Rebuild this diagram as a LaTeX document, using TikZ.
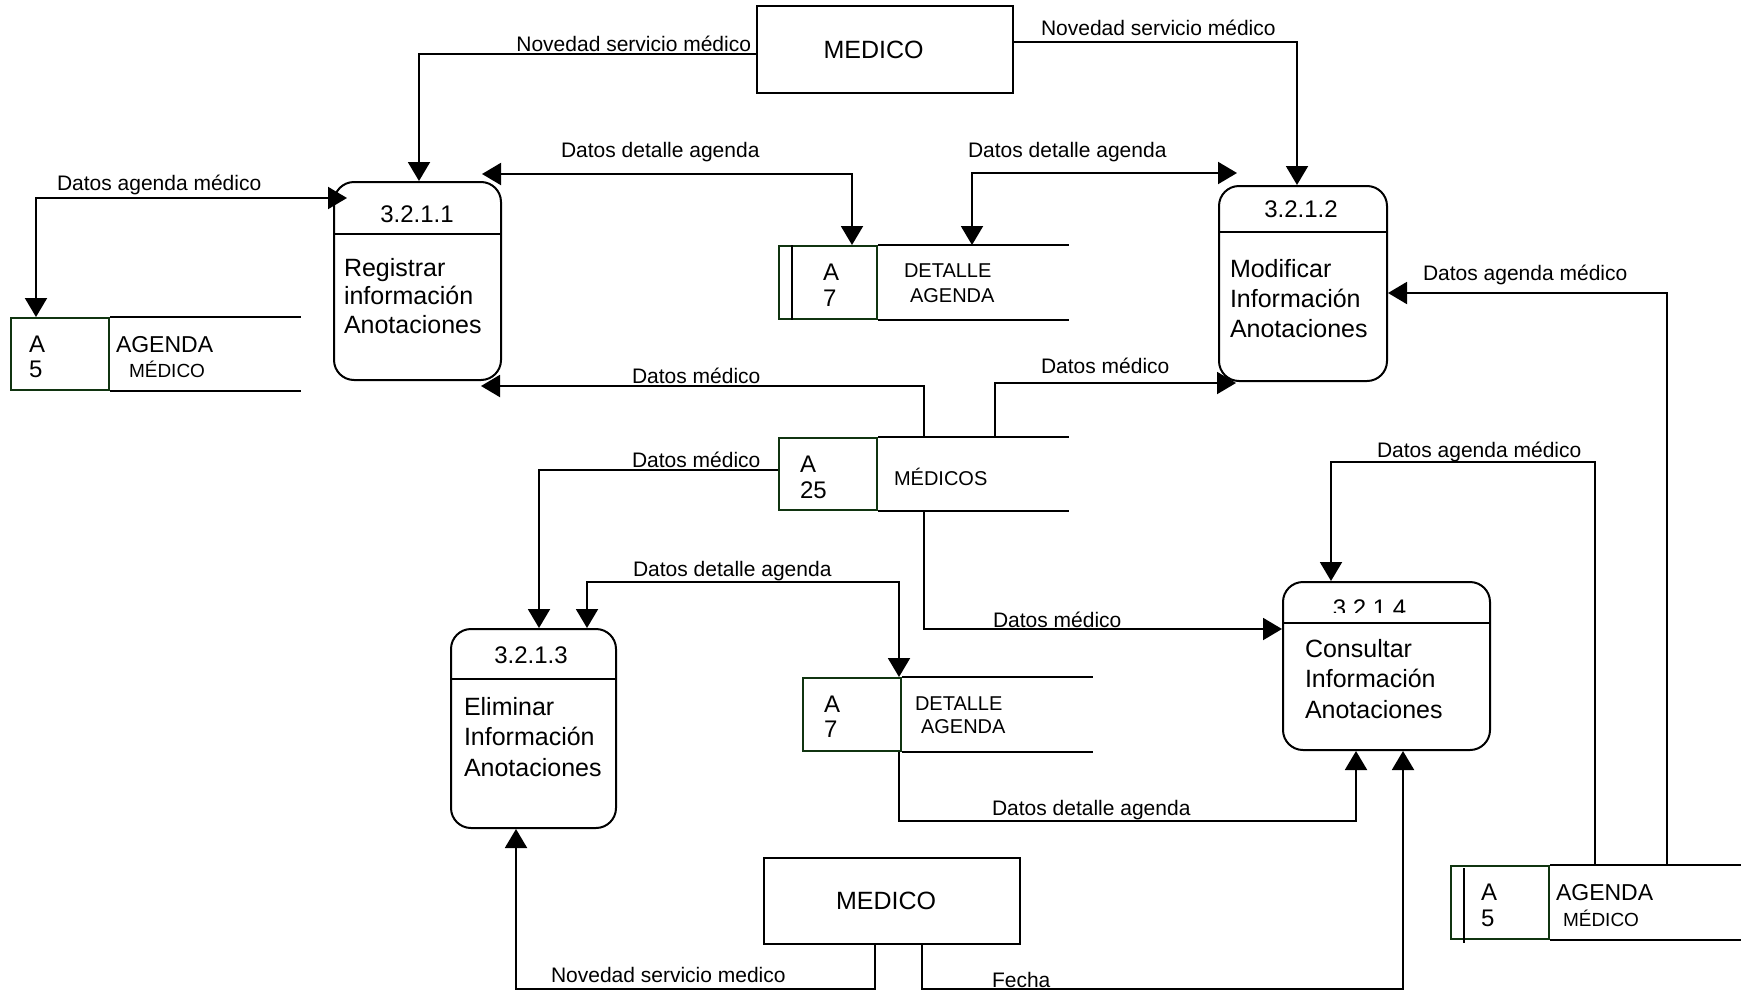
\documentclass[tikz,border=0pt]{standalone}
\usepackage{fontspec}
\setmainfont{Liberation Sans}
\usetikzlibrary{arrows.meta}
\definecolor{sgreen}{RGB}{16,52,16}
\begin{document}
\begin{tikzpicture}[x=1pt,y=-1pt,line width=2pt,
  tip/.tip={Triangle[length=19pt,width=22pt]},
  ent/.style={draw,rectangle,line width=2pt,inner sep=0pt},
  proc/.style={draw,rectangle,rounded corners=20pt,line width=2pt,inner sep=0pt},
  sid/.style={draw=sgreen,rectangle,line width=2pt,inner sep=0pt,minimum width=98pt,minimum height=72pt},
  lbl/.style={font=\fontsize{21}{24}\selectfont,inner sep=0pt,anchor=base west},
  ptxt/.style={font=\fontsize{25}{29}\selectfont,inner sep=0pt,anchor=base west},
  pnum/.style={font=\fontsize{24}{27}\selectfont,inner sep=0pt,anchor=base},
  stxt/.style={font=\fontsize{20}{24}\selectfont,inner sep=0pt,anchor=base west},
  sbig/.style={font=\fontsize{23}{27}\selectfont,inner sep=0pt,anchor=base west},
  ssmall/.style={font=\fontsize{19}{23}\selectfont,inner sep=0pt,anchor=base west},
  sidt/.style={font=\fontsize{24}{28}\selectfont,inner sep=0pt,anchor=base west},
  etxt/.style={font=\fontsize{25}{29}\selectfont,inner sep=0pt},
  onearrow/.style={-tip},
  twoarrow/.style={tip-tip}]
\useasboundingbox (0,0) rectangle (1747,993);

% ---------- external entities ----------
\node[ent,minimum width=256pt,minimum height=87pt] (m1) at (885,49.5) {};
\node[etxt] (m1t) at (873.5,50) {MEDICO};
\node[ent,minimum width=256pt,minimum height=86pt] (m2) at (892,900.5) {};
\node[etxt] (m2t) at (886,901) {MEDICO};

% ---------- processes ----------
\node[proc,minimum width=167pt,minimum height=198pt] (p1) at (417.5,281) {};
\draw (p1.west |- 0,234) -- (p1.east |- 0,234);
\node[pnum] (p1n) at (417,222) {3.2.1.1};
\node[ptxt] (p1a) at (343,276) {Registrar};
\node[ptxt] (p1b) at (343,304.5) {información};
\node[ptxt] (p1c) at (343,333) {Anotaciones};

\node[proc,minimum width=168pt,minimum height=195pt] (p2) at (1303,283.5) {};
\draw (p2.west |- 0,232) -- (p2.east |- 0,232);
\node[pnum] (p2n) at (1301,217) {3.2.1.2};
\node[ptxt] (p2a) at (1229,277) {Modificar};
\node[ptxt] (p2b) at (1229,307) {Información};
\node[ptxt] (p2c) at (1229,337) {Anotaciones};

\node[proc,minimum width=165pt,minimum height=199pt] (p3) at (533.5,728.5) {};
\draw (p3.west |- 0,679) -- (p3.east |- 0,679);
\node[pnum] (p3n) at (531,663) {3.2.1.3};
\node[ptxt] (p3a) at (463,715) {Eliminar};
\node[ptxt] (p3b) at (463,745) {Información};
\node[ptxt] (p3c) at (463,776) {Anotaciones};

\node[proc,minimum width=207pt,minimum height=168pt] (p4) at (1386.5,666) {};
\draw (p4.west |- 0,623) -- (p4.east |- 0,623);
\begin{scope}
  \clip (1290,585) rectangle (1480,612);
  \node[pnum] (p4n) at (1369.5,616) {3.2.1.4};
\end{scope}
\node[ptxt] (p4a) at (1304,657) {Consultar};
\node[ptxt] (p4b) at (1304,687) {Información};
\node[ptxt] (p4c) at (1304,718) {Anotaciones};

% ---------- data stores ----------
% left AGENDA MEDICO
\node[sid] (s1) at (60,354) {};
\draw (s1.north east) -- ++(191,0);
\draw (s1.south east) -- ++(191,0);
\node[sidt] (s1a) at (28,352) {A};
\node[sidt] (s1b) at (28,377) {5};
\node[sbig] (s1c) at (115,352) {AGENDA};
\node[ssmall] (s1d) at (128,377) {MÉDICO};

% top DETALLE AGENDA
\node[sid,minimum height=73pt] (s2) at (828,282.5) {};
\draw (s2.north east) -- ++(191,0);
\draw (s2.south east) -- ++(191,0);
\draw ([xshift=14pt]s2.north west) -- ([xshift=14pt]s2.south west);
\node[sidt] (s2a) at (822,280) {A};
\node[sidt] (s2b) at (822,306) {7};
\node[stxt] (s2c) at (903,277) {DETALLE};
\node[stxt] (s2d) at (909,302) {AGENDA};

% MEDICOS
\node[sid] (s3) at (828,474) {};
\draw (s3.north east) -- ++(191,0);
\draw (s3.south east) -- ++(191,0);
\node[sidt] (s3a) at (799,472) {A};
\node[sidt] (s3b) at (799,498) {25};
\node[stxt] (s3c) at (893,485) {MÉDICOS};

% bottom DETALLE AGENDA
\node[sid,minimum height=73pt] (s4) at (852,714.5) {};
\draw (s4.north east) -- ++(191,0);
\draw (s4.south east) -- ++(191,0);
\node[sidt] (s4a) at (823,712) {A};
\node[sidt] (s4b) at (823,737) {7};
\node[stxt] (s4c) at (914,710) {DETALLE};
\node[stxt] (s4d) at (920,733) {AGENDA};

% right AGENDA MEDICO
\node[sid,minimum height=73pt] (s5) at (1500,902.5) {};
\draw (s5.north east) -- ++(191,0);
\draw (s5.south east) -- ++(191,0);
\draw ([xshift=14pt,yshift=-3pt]s5.north west) -- ([xshift=14pt,yshift=-3pt]s5.south west);
\node[sidt] (s5a) at (1480,900) {A};
\node[sidt] (s5b) at (1480,926) {5};
\node[sbig] (s5c) at (1555,900) {AGENDA};
\node[ssmall] (s5d) at (1562,926) {MÉDICO};

% ---------- connectors ----------
% 1 MEDICO -> 3.2.1.1
\coordinate (c1) at (419,54);
\draw[onearrow] (m1.west |- c1) -- (c1) -- (c1 |- p1.north);
\node[lbl,anchor=base east] (l1) at (752,51) {Novedad servicio médico};

% 2 MEDICO -> 3.2.1.2
\coordinate (c2) at (1297,42);
\draw[onearrow] (m1.east |- c2) -- (c2) -- (c2 |- p2.north);
\node[lbl] (l2) at (1040,35) {Novedad servicio médico};

% 3 DETALLE <-> 3.2.1.1
\coordinate (c3) at (852,174);
\coordinate (t3) at (482,174);
\draw[twoarrow] (t3) -- (c3) -- (c3 |- s2.north);
\node[lbl] (l3) at (560,157) {Datos detalle agenda};

% 4 DETALLE <-> 3.2.1.2
\coordinate (c4) at (972,173);
\coordinate (t4) at (1237,173);
\draw[twoarrow] (c4 |- s2.north) -- (c4) -- (t4);
\node[lbl] (l4) at (967,157) {Datos detalle agenda};

% 5 AGENDA <-> 3.2.1.1
\coordinate (c5) at (36,198);
\coordinate (t5) at (347,198);
\draw[twoarrow] (c5 |- s1.north) -- (c5) -- (t5);
\node[lbl] (l5) at (56,190) {Datos agenda médico};

% 6 MEDICOS -> 3.2.1.1
\coordinate (c6) at (924,386);
\coordinate (t6) at (481,386);
\draw[onearrow] (c6 |- s3.north) -- (c6) -- (t6);
\node[lbl] (l6) at (631,383) {Datos médico};

% 7 MEDICOS -> 3.2.1.2
\coordinate (c7) at (995,383);
\coordinate (t7) at (1236,383);
\draw[onearrow] (c7 |- s3.north) -- (c7) -- (t7);
\node[lbl] (l7) at (1040,373) {Datos médico};

% 8 MEDICOS -> 3.2.1.3
\coordinate (c8) at (539,470);
\draw[onearrow] (s3.west |- c8) -- (c8) -- (c8 |- p3.north);
\node[lbl] (l8) at (631,467) {Datos médico};

% 9 DETALLE <-> 3.2.1.3
\coordinate (c9a) at (899,582);
\coordinate (c9b) at (587,582);
\draw[twoarrow] (c9a |- s4.north) -- (c9a) -- (c9b) -- (c9b |- p3.north);
\node[lbl] (l9) at (632,576) {Datos detalle agenda};

% 10 MEDICOS -> 3.2.1.4
\coordinate (c10) at (924,629);
\draw[onearrow] (c10 |- s3.south) -- (c10) -- (p4.west |- c10);
\node[lbl] (l10) at (992,627) {Datos médico};

% 11 AGENDA -> 3.2.1.4
\coordinate (c11a) at (1595,462);
\coordinate (c11b) at (1331,462);
\draw[onearrow] (c11a |- s5.north) -- (c11a) -- (c11b) -- (c11b |- p4.north);
\node[lbl] (l11) at (1376,457) {Datos agenda médico};

% 12 AGENDA -> 3.2.1.2
\coordinate (c12) at (1667,293);
\draw[onearrow] (c12 |- s5.north) -- (c12) -- (p2.east |- c12);
\node[lbl] (l12) at (1422,280) {Datos agenda médico};

% 13 DETALLE -> 3.2.1.4
\coordinate (c13a) at (899,821);
\coordinate (c13b) at (1356,821);
\draw[onearrow] (c13a |- s4.south) -- (c13a) -- (c13b) -- (c13b |- p4.south);
\node[lbl] (l13) at (991,815) {Datos detalle agenda};

% 14 MEDICO -> 3.2.1.3
\coordinate (c14a) at (875,989);
\coordinate (c14b) at (516,989);
\draw[onearrow] (c14a |- m2.south) -- (c14a) -- (c14b) -- (c14b |- p3.south);
\node[lbl] (l14) at (550,982) {Novedad servicio medico};

% 15 MEDICO -> 3.2.1.4
\coordinate (c15a) at (922,989);
\coordinate (c15b) at (1403,989);
\draw[onearrow] (c15a |- m2.south) -- (c15a) -- (c15b) -- (c15b |- p4.south);
\node[lbl] (l15) at (991,987) {Fecha};
\end{tikzpicture}
\end{document}
